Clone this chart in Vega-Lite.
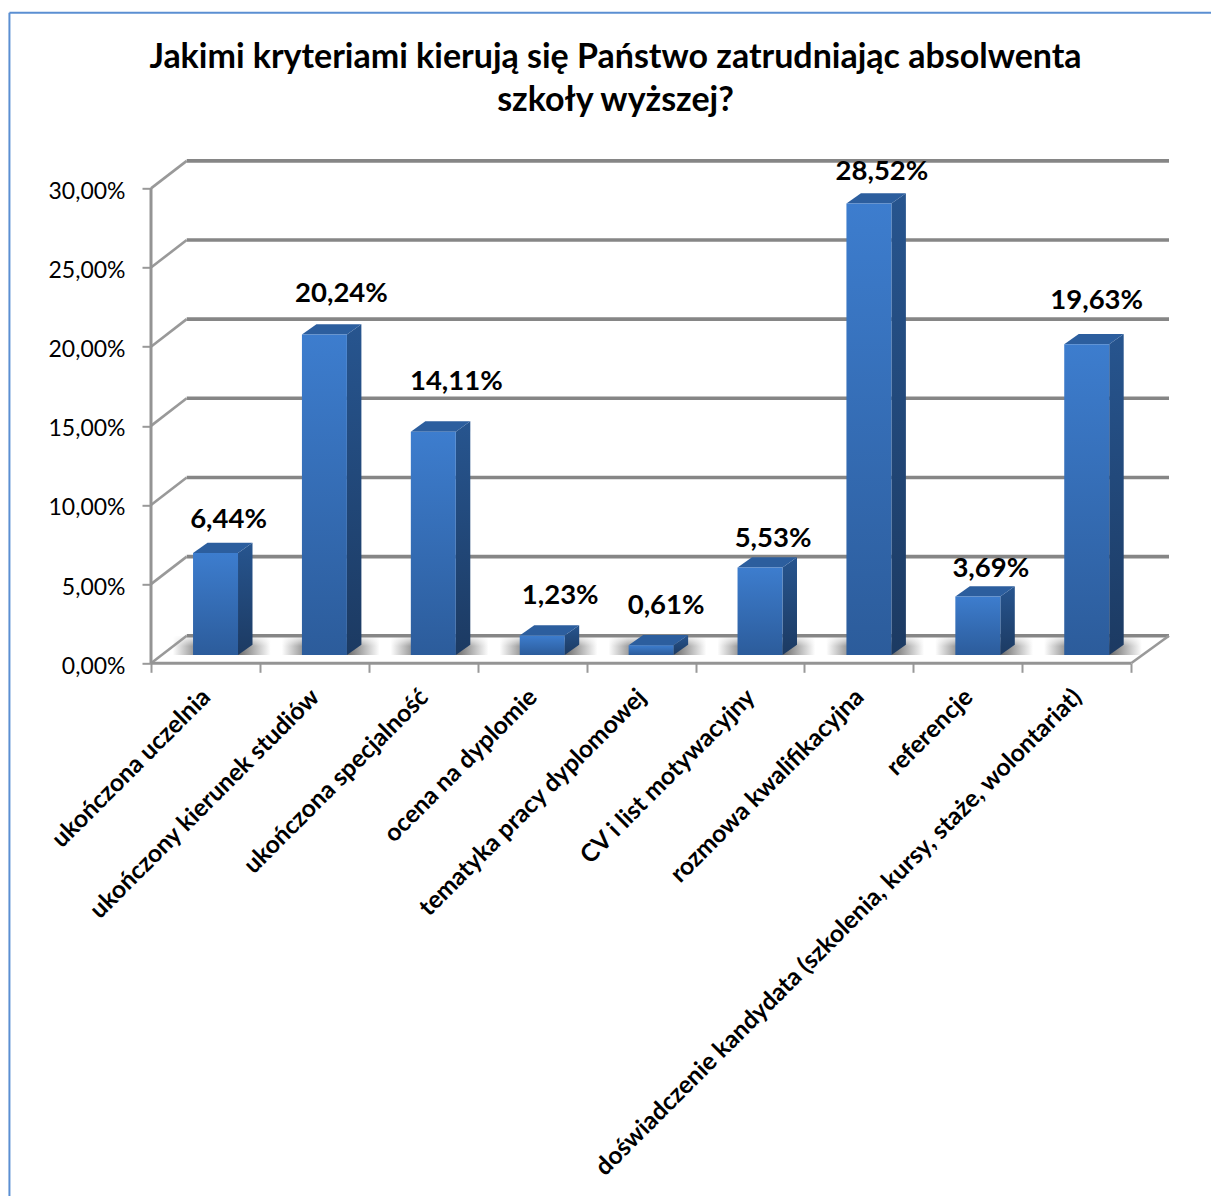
{"$schema":"https://vega.github.io/schema/vega-lite/v6.json","width":1018,"height":503,"autosize":"none","padding":{"left":151,"top":160.3,"right":42,"bottom":533},"background":"white",
"title":{"text":["Jakimi kryteriami kierują się Państwo zatrudniając absolwenta","szkoły wyższej?"],"font":"Lato","fontWeight":"bold","fontSize":34,"lineHeight":43,"color":"#000000","anchor":"middle","frame":"group","dx":-44.5,"offset":-106},
"config":{"view":{"stroke":null},"axis":{"grid":false}},
"datasets":{"kryteria":[
{"kryterium":"ukończona uczelnia","poz":0,"wartosc":6.44},
{"kryterium":"ukończony kierunek studiów","poz":1,"wartosc":20.24},
{"kryterium":"ukończona specjalność","poz":2,"wartosc":14.11},
{"kryterium":"ocena na dyplomie","poz":3,"wartosc":1.23},
{"kryterium":"tematyka pracy dyplomowej","poz":4,"wartosc":0.61},
{"kryterium":"CV i list motywacyjny","poz":5,"wartosc":5.53},
{"kryterium":"rozmowa kwalifikacyjna","poz":6,"wartosc":28.52},
{"kryterium":"referencje","poz":7,"wartosc":3.69},
{"kryterium":"doświadczenie kandydata (szkolenia, kursy, staże, wolontariat)","poz":8,"wartosc":19.63}],
"podzialka":[{"v":0},{"v":5},{"v":10},{"v":15},{"v":20},{"v":25},{"v":30}]},
"resolve":{"axis":{"x":"independent","y":"independent"}},
"layer":[
{"data":{"values":[{"a":1}]},"mark":{"type":"rule","stroke":"#5b8fd2","strokeWidth":2,"clip":false},
 "encoding":{"x":{"datum":-1.3,"type":"quantitative","scale":{"domain":[0,9.348],"nice":false,"zero":false},"axis":null},"y":{"datum":41.1,"type":"quantitative","scale":{"domain":[0,31.775],"nice":false,"zero":false},"axis":null},"y2":{"datum":-33.7}}},
{"data":{"values":[{"a":1}]},"mark":{"type":"rule","stroke":"#5b8fd2","strokeWidth":2,"clip":false},
 "encoding":{"x":{"datum":-1.3,"type":"quantitative","scale":{"domain":[0,9.348],"nice":false,"zero":false},"axis":null},"x2":{"datum":9.74},"y":{"datum":41.1,"type":"quantitative","scale":{"domain":[0,31.775],"nice":false,"zero":false},"axis":null}}},
{"data":{"name":"kryteria"},"transform":[{"calculate":"datum.poz+0.386-0.185","as":"x"},{"calculate":"datum.poz+0.386+0.413+0.3","as":"x2"}],
 "mark":{"type":"rect","fill":{"gradient":"linear","x1":0,"y1":0,"x2":1,"y2":0,"stops":[{"offset":0,"color":"#ffffff"},{"offset":0.2,"color":"#a0a0a0"},{"offset":0.68,"color":"#6e6e6e"},{"offset":1,"color":"#ffffff"}]}},
 "encoding":{"x":{"field":"x","type":"quantitative","scale":{"domain":[0,9.348],"nice":false,"zero":false},"axis":null},"x2":{"field":"x2"},"y":{"datum":0.524,"type":"quantitative","scale":{"domain":[0,31.775],"nice":false,"zero":false},"axis":null},"y2":{"datum":1.74}}},
{"data":{"name":"kryteria"},"transform":[{"calculate":"datum.poz+0.386-0.2","as":"x"},{"calculate":"datum.poz+0.386+0.413+0.32","as":"x2"}],
 "mark":{"type":"rect","fill":{"gradient":"linear","x1":0,"y1":0,"x2":0,"y2":1,"stops":[{"offset":0,"color":"rgba(255,255,255,1)"},{"offset":0.55,"color":"rgba(255,255,255,0)"},{"offset":1,"color":"rgba(255,255,255,0)"}]}},
 "encoding":{"x":{"field":"x","type":"quantitative","scale":{"domain":[0,9.348],"nice":false,"zero":false},"axis":null},"x2":{"field":"x2"},"y":{"datum":0.524,"type":"quantitative","scale":{"domain":[0,31.775],"nice":false,"zero":false},"axis":null},"y2":{"datum":1.78}}},
{"data":{"name":"podzialka"},"transform":[{"calculate":"datum.v+1.74","as":"y"}],"mark":{"type":"rule","stroke":"#868686","strokeWidth":3.6},
 "encoding":{"x":{"datum":0.328,"type":"quantitative","scale":{"domain":[0,9.348],"nice":false,"zero":false},"axis":null},"x2":{"datum":9.348},"y":{"field":"y","type":"quantitative","scale":{"domain":[0,31.775],"nice":false,"zero":false},"axis":null}}},
{"data":{"name":"podzialka"},"transform":[{"calculate":"[0,1]","as":"g"},{"flatten":["g"]},{"calculate":"datum.g*0.328","as":"x"},{"calculate":"datum.v+datum.g*1.74","as":"y"}],"mark":{"type":"line","stroke":"#999999","strokeWidth":2.6},
 "encoding":{"x":{"field":"x","type":"quantitative","scale":{"domain":[0,9.348],"nice":false,"zero":false},"axis":null},"y":{"field":"y","type":"quantitative","scale":{"domain":[0,31.775],"nice":false,"zero":false},"axis":null},"detail":{"field":"v"}}},
{"data":{"values":[{"k":0},{"k":1}]},"transform":[{"calculate":"9+datum.k*0.348","as":"x"},{"calculate":"datum.k*1.74","as":"y"}],"mark":{"type":"line","stroke":"#999999","strokeWidth":2.6},
 "encoding":{"x":{"field":"x","type":"quantitative","scale":{"domain":[0,9.348],"nice":false,"zero":false},"axis":null},"y":{"field":"y","type":"quantitative","scale":{"domain":[0,31.775],"nice":false,"zero":false},"axis":null}}},
{"data":{"values":[{"a":1}]},"mark":{"type":"rule","stroke":"#949494","strokeWidth":3},
 "encoding":{"x":{"datum":0,"type":"quantitative","scale":{"domain":[0,9.348],"nice":false,"zero":false},"axis":{"values":[0,1,2,3,4,5,6,7,8,9],"title":null,"labels":false,"domain":false,"tickSize":9,"tickColor":"#999999","tickWidth":2,"orient":"bottom"}},"y":{"datum":0,"type":"quantitative","scale":{"domain":[0,31.775],"nice":false,"zero":false},"axis":null},"y2":{"datum":30}}},
{"data":{"values":[{"a":1}]},"mark":{"type":"rule","stroke":"#949494","strokeWidth":3},
 "encoding":{"x":{"datum":0,"type":"quantitative","scale":{"domain":[0,9.348],"nice":false,"zero":false},"axis":{"values":[0.5,1.5,2.5,3.5,4.5,5.5,6.5,7.5,8.5],"title":null,"domain":false,"ticks":false,"orient":"bottom","labelAngle":-45,"labelAlign":"right","labelBaseline":"middle","labelFont":"Lato","labelFontWeight":"bold","labelFontSize":24.6,"labelColor":"#000000","labelPadding":30,"labelOffset":1,"labelLimit":900,"labelOverlap":false,"labelBound":false,"labelFlush":false,"labelExpr":"['ukończona uczelnia','ukończony kierunek studiów','ukończona specjalność','ocena na dyplomie','tematyka pracy dyplomowej','CV i list motywacyjny','rozmowa kwalifikacyjna','referencje','doświadczenie kandydata (szkolenia, kursy, staże, wolontariat)'][floor(datum.value)]"}},"x2":{"datum":9},"y":{"datum":0,"type":"quantitative","scale":{"domain":[0,31.775],"nice":false,"zero":false},"axis":{"values":[0,5,10,15,20,25,30],"title":null,"domain":false,"tickSize":9,"tickColor":"#999999","tickWidth":2,"labelFont":"Lato","labelFontSize":23,"labelColor":"#000000","labelPadding":17,"labelOffset":3,"labelExpr":"replace(format(datum.value,'.2f'),'.',',')+'%'"}}}},
{"data":{"name":"kryteria"},"transform":[{"calculate":"datum.poz+0.386+0.413","as":"x"},{"calculate":"datum.wartosc+0.524","as":"y"},{"calculate":"[0,1]","as":"g"},{"flatten":["g"]},{"calculate":"datum.x+datum.g*0.133","as":"xs"},{"calculate":"datum.y+datum.g*0.65","as":"ys"},{"calculate":"0.524+datum.g*0.65","as":"ys2"}],
 "mark":{"type":"area","orient":"vertical","fill":{"gradient":"linear","x1":0,"y1":0,"x2":0,"y2":1,"stops":[{"offset":0,"color":"#27558f"},{"offset":1,"color":"#1c3a62"}]}},
 "encoding":{"x":{"field":"xs","type":"quantitative","scale":{"domain":[0,9.348],"nice":false,"zero":false},"axis":null},"y":{"field":"ys","type":"quantitative","scale":{"domain":[0,31.775],"nice":false,"zero":false},"axis":null},"y2":{"field":"ys2"},"detail":{"field":"poz"}}},
{"data":{"name":"kryteria"},"transform":[{"calculate":"datum.poz+0.386","as":"xl"},{"calculate":"datum.wartosc+0.524","as":"y"},{"calculate":"[0,1]","as":"g"},{"flatten":["g"]},{"calculate":"datum.xl+datum.g*0.133","as":"xs"},{"calculate":"datum.xl+0.413+datum.g*0.133","as":"xs2"},{"calculate":"datum.y+datum.g*0.65","as":"ys"}],
 "mark":{"type":"area","orient":"horizontal","fill":"#2c5e9e"},
 "encoding":{"y":{"field":"ys","type":"quantitative","scale":{"domain":[0,31.775],"nice":false,"zero":false},"axis":null},"x":{"field":"xs","type":"quantitative","scale":{"domain":[0,9.348],"nice":false,"zero":false},"axis":null},"x2":{"field":"xs2"},"detail":{"field":"poz"}}},
{"data":{"name":"kryteria"},"transform":[{"calculate":"datum.poz+0.386","as":"x"},{"calculate":"datum.poz+0.386+0.413","as":"x2"},{"calculate":"datum.wartosc+0.524","as":"y"}],
 "mark":{"type":"rect","fill":{"gradient":"linear","x1":0,"y1":0,"x2":0,"y2":1,"stops":[{"offset":0,"color":"#3d7dce"},{"offset":1,"color":"#2c5c9b"}]}},
 "encoding":{"x":{"field":"x","type":"quantitative","scale":{"domain":[0,9.348],"nice":false,"zero":false},"axis":null},"x2":{"field":"x2"},"y":{"field":"y","type":"quantitative","scale":{"domain":[0,31.775],"nice":false,"zero":false},"axis":null},"y2":{"datum":0.524}}},
{"data":{"name":"kryteria"},"transform":[{"calculate":"datum.poz+0.5925","as":"x"},{"calculate":"datum.wartosc+0.524","as":"y"},{"calculate":"replace(format(datum.wartosc,'.2f'),'.',',')+'%'","as":"etykieta"}],
 "mark":{"type":"text","font":"Lato","fontWeight":"bold","fontSize":27.5,"color":"#000000","align":"center","baseline":"middle","dx":{"expr":"[13,17,23,18,15,13,13,13,10][datum.poz]"},"dy":{"expr":"-[33,41,50,40,39,28,32,28,43][datum.poz]"}},
 "encoding":{"x":{"field":"x","type":"quantitative","scale":{"domain":[0,9.348],"nice":false,"zero":false},"axis":null},"y":{"field":"y","type":"quantitative","scale":{"domain":[0,31.775],"nice":false,"zero":false},"axis":null},"text":{"field":"etykieta"}}}
]}
